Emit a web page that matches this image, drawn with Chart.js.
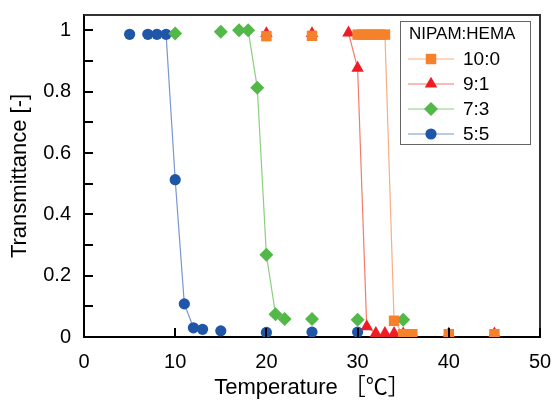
<!DOCTYPE html>
<html>
<head>
<meta charset="utf-8">
<script src="https://cdn.jsdelivr.net/npm/chart.js@4/dist/chart.umd.min.js"></script>
<style>
  html, body { margin: 0; padding: 0; background: #fff; }
  canvas { display: block; }
</style>
</head>
<body>
<canvas id="c" width="555" height="401"></canvas>
<script>
// ---- data ----
const seriesNames = ['10:0', '9:1', '7:3', '5:5'];
const legendTitle = 'NIPAM:HEMA';

const temp_10_0 = [20, 25, 30, 30.5, 31, 31.5, 32, 32.5, 33, 34, 35, 35.5, 36, 40, 45];
const trans_10_0 = [0.981, 0.982, 0.986, 0.986, 0.986, 0.986, 0.986, 0.986, 0.986, 0.053, 0.009, 0.009, 0.009, 0.009, 0.009];

const temp_9_1 = [20, 25, 29, 30, 31, 32, 33, 34, 35, 40, 45];
const trans_9_1 = [0.99, 0.99, 0.992, 0.877, 0.034, 0.012, 0.012, 0.012, 0.011, 0.011, 0.011];

const temp_7_3 = [10, 15, 17, 18, 19, 20, 21, 22, 25, 30, 35];
const trans_7_3 = [0.99, 0.995, 1.0, 1.0, 0.813, 0.268, 0.074, 0.059, 0.059, 0.056, 0.056];

const temp_5_5 = [5, 7, 8, 9, 10, 11, 12, 13, 15, 20, 25, 30];
const trans_5_5 = [0.987, 0.987, 0.987, 0.987, 0.513, 0.108, 0.03, 0.025, 0.02, 0.015, 0.016, 0.016];

const xTickValues = [0, 10, 20, 30, 40, 50];
const yTickValues = [0, 0.1, 0.2, 0.3, 0.4, 0.5, 0.6, 0.7, 0.8, 0.9, 1];
const yTickLabels = ['0', '', '0.2', '', '0.4', '', '0.6', '', '0.8', '', '1'];

// ---- styles ----
const markerColors = ['#F5822A', '#EE1C25', '#52B847', '#1F56A8'];
const lineColors = ['#F8AD84', '#F47A6C', '#8CCF7E', '#7A96D0'];
const pointStyles = ['rect', 'triangle', 'rectRot', 'circle'];
const pointRadii = [7.4, 7.2, 7, 5.6];

const xsList = [temp_10_0, temp_9_1, temp_7_3, temp_5_5];
const ysList = [trans_10_0, trans_9_1, trans_7_3, trans_5_5];

const datasets = seriesNames.map((name, i) => ({
  label: name,
  data: xsList[i].map((x, k) => ({ x: x, y: ysList[i][k] })),
  borderColor: lineColors[i],
  borderWidth: 1.2,
  backgroundColor: markerColors[i],
  pointBackgroundColor: markerColors[i],
  pointBorderColor: markerColors[i],
  pointBorderWidth: 0,
  pointStyle: pointStyles[i],
  pointRadius: pointRadii[i],
  pointHoverRadius: pointRadii[i],
  tension: 0,
  fill: false,
  segment: {
    borderColor: ctx => Math.abs(ctx.p1.parsed.y - ctx.p0.parsed.y) > 0.02 ? lineColors[i] : 'rgba(0,0,0,0)'
  }
}));

const FONT = "'Liberation Sans', Arial, 'Noto Sans CJK JP', sans-serif";

const framePlugin = {
  id: 'frame',
  afterDatasetsDraw(chart) {
    const { ctx, chartArea: a } = chart;
    ctx.save();
    ctx.strokeStyle = '#333';
    ctx.lineWidth = 2;
    ctx.beginPath();
    ctx.moveTo(a.left, a.top);
    ctx.lineTo(a.right, a.top);
    ctx.lineTo(a.right, a.bottom);
    ctx.stroke();
    ctx.strokeStyle = '#000';
    ctx.lineWidth = 2;
    const ys = chart.scales.y;
    ys.ticks.forEach(t => {
      const py = Math.round(ys.getPixelForValue(t.value));
      ctx.beginPath();
      ctx.moveTo(a.left, py);
      ctx.lineTo(a.left + 9, py);
      ctx.stroke();
    });
    const xs = chart.scales.x;
    xs.ticks.forEach(t => {
      const px = Math.round(xs.getPixelForValue(t.value));
      ctx.beginPath();
      ctx.moveTo(px, a.bottom);
      ctx.lineTo(px, a.bottom - 9);
      ctx.stroke();
    });
    ctx.restore();
  },
  afterDraw(chart) {
    const { ctx, chartArea: a } = chart;
    const helpers = Chart.helpers;
    ctx.save();
    const bx = a.right - 140, by = a.top + 6, bw = 130, bh = 123;
    ctx.fillStyle = '#fff';
    ctx.fillRect(bx, by, bw, bh);
    ctx.strokeStyle = '#666';
    ctx.lineWidth = 1;
    ctx.strokeRect(bx + 0.5, by + 0.5, bw, bh);
    ctx.fillStyle = '#000';
    ctx.textBaseline = 'middle';
    ctx.textAlign = 'left';
    ctx.font = "17px " + FONT;
    ctx.fillText(legendTitle, bx + 9, by + 13);
    ctx.font = "19px " + FONT;
    chart.data.datasets.forEach((ds, i) => {
      const cy = by + 38 + i * 25;
      ctx.strokeStyle = lineColors[i];
      ctx.lineWidth = 1.2;
      ctx.beginPath();
      ctx.moveTo(bx + 8, cy);
      ctx.lineTo(bx + 54, cy);
      ctx.stroke();
      ctx.fillStyle = markerColors[i];
      ctx.strokeStyle = markerColors[i];
      helpers.drawPoint(ctx, { pointStyle: pointStyles[i], rotation: 0, radius: pointRadii[i], borderWidth: 0 }, bx + 31, cy);
      ctx.fillStyle = '#000';
      ctx.fillText(ds.label, bx + 63, cy + 1);
    });
    ctx.restore();
  }
};

new Chart(document.getElementById('c'), {
  type: 'line',
  data: { datasets: datasets },
  options: {
    responsive: false,
    animation: false,
    devicePixelRatio: 1,
    layout: { padding: { left: 0, right: 15, top: 15, bottom: 0 } },
    plugins: { legend: { display: false }, tooltip: { enabled: false } },
    scales: {
      x: {
        type: 'linear',
        min: 0, max: 50,
        afterBuildTicks: s => { s.ticks = xTickValues.map(v => ({ value: v })); },
        afterFit: s => { s.height = 64; s.paddingLeft = 0; s.paddingRight = 0; },
        ticks: { color: '#000', font: { family: FONT, size: 20 }, padding: 13, maxRotation: 0, autoSkip: false },
        grid: { display: true, drawOnChartArea: false, drawTicks: false },
        border: { display: true, color: '#000', width: 2 },
        title: { display: true, text: 'Temperature ［℃］', color: '#000', font: { family: FONT, size: 22 }, padding: { top: 0, bottom: 0 } }
      },
      y: {
        type: 'linear',
        min: 0, max: 1.05,
        afterBuildTicks: s => { s.ticks = yTickValues.map(v => ({ value: v })); },
        afterFit: s => { s.width = 84; s.paddingTop = 0; s.paddingBottom = 0; },
        ticks: {
          autoSkip: false,
          color: '#000',
          font: { family: FONT, size: 20 },
          padding: 13,
          callback: (v, idx) => yTickLabels[idx]
        },
        grid: { display: true, drawOnChartArea: false, drawTicks: false },
        border: { display: true, color: '#000', width: 2 },
        title: { display: true, text: 'Transmittance [-]', color: '#000', font: { family: FONT, size: 22 }, padding: { top: 7, bottom: 0 } }
      }
    }
  },
  plugins: [framePlugin]
});
</script>
</body>
</html>
